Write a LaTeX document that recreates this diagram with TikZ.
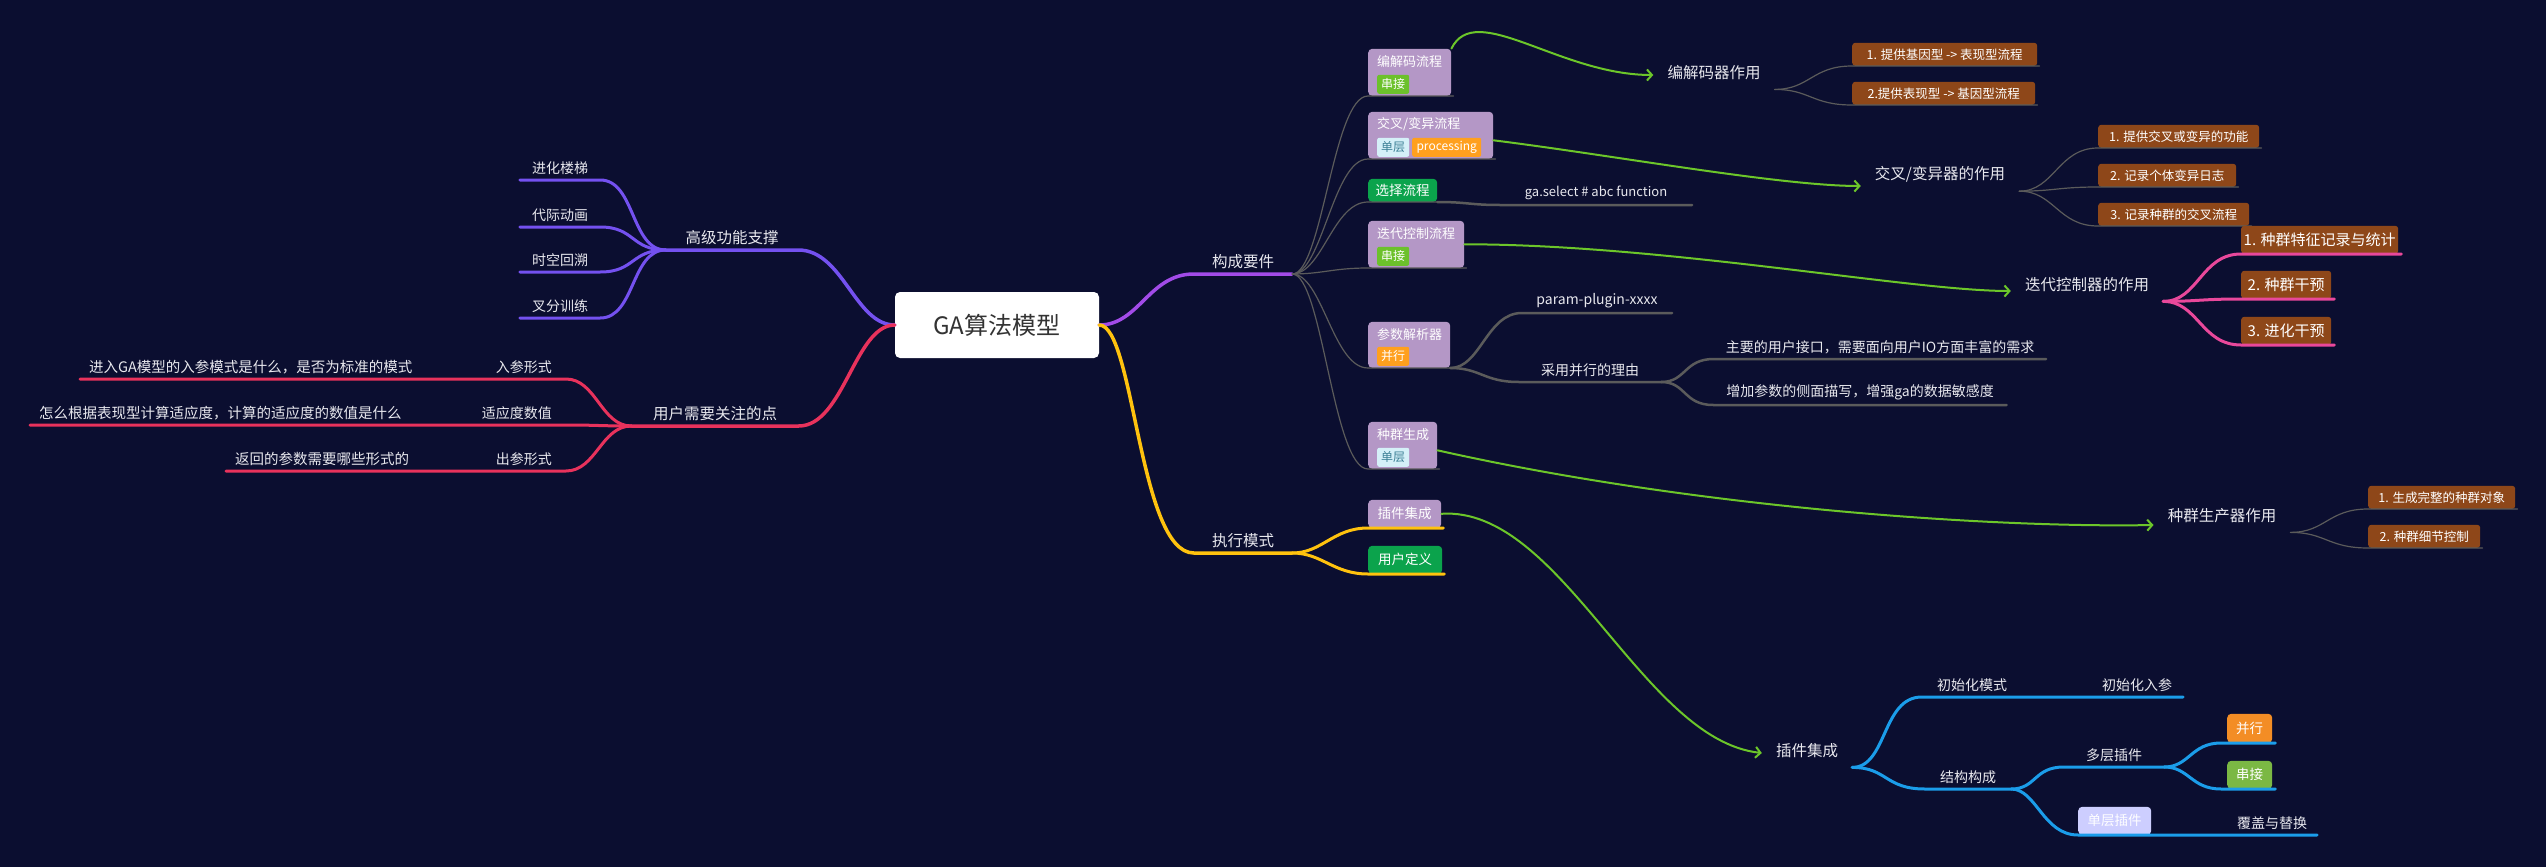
\documentclass[tikz,border=0pt]{standalone}
\usepackage{fontspec}
\setmainfont{Noto Sans CJK SC}
\usetikzlibrary{arrows.meta}

\definecolor{bgnavy}{HTML}{0B0E30}
\definecolor{fgtext}{HTML}{E8E8EE}
\definecolor{rootgray}{HTML}{333333}
\definecolor{brcomp}{HTML}{A24BE8}
\definecolor{bradv}{HTML}{7451F0}
\definecolor{bruser}{HTML}{E8325C}
\definecolor{brexe}{HTML}{FFC20E}
\definecolor{lnk}{HTML}{5B5B5B}
\definecolor{lilac}{HTML}{B497C6}
\definecolor{taggreen}{HTML}{6CC12B}
\definecolor{tagcyan}{HTML}{D5F0F8}
\definecolor{tagcyantext}{HTML}{3B7F95}
\definecolor{tagorange}{HTML}{FFA01E}
\definecolor{boxgreen}{HTML}{0BA34C}
\definecolor{rust}{HTML}{8E4719}
\definecolor{arrgreen}{HTML}{6CC62A}
\definecolor{pinkbr}{HTML}{E9489B}
\definecolor{bluebr}{HTML}{1B9DEA}
\definecolor{plorange}{HTML}{F38D25}
\definecolor{plgreen}{HTML}{7BB844}
\definecolor{lavender}{HTML}{CDCEFF}

\tikzset{
  fs/.style={font=\fontsize{#1pt}{#1pt}\selectfont},
  root/.style={fill=white, rounded corners=5pt, minimum width=204pt, minimum height=66pt, text=rootgray, fs=24},
  ul/.style={anchor=south, inner xsep=0pt, inner ysep=5pt, text=fgtext},
  big/.style={fs=15.5},
  small/.style={fs=14},
  role/.style={text=fgtext, fs=15.5, inner xsep=14pt, inner ysep=9pt},
  elbox/.style={fill=lilac, rounded corners=4pt, anchor=south west, inner sep=0pt},
  eltitle/.style={anchor=west, text=white, fs=13, inner sep=0pt},
  tag/.style={anchor=south west, rounded corners=2pt, text=white, fs=12, inner sep=0pt, minimum height=19pt, minimum width=32pt},
  flat/.style={anchor=south west, rounded corners=4pt, text=white, fs=13.5, inner sep=0pt},
  rbox/.style={anchor=south west, fill=rust, rounded corners=3pt, text=white, fs=12.5, inner sep=0pt, minimum height=23pt},
  fan/.style={lnk, line width=1.2pt},
  stem/.style={lnk, line width=2.5pt},
  call/.style={arrgreen, line width=2pt, -{Straight Barb[length=5pt,width=11pt]}},
  br/.style={line width=3.5pt}
}

\begin{document}
\begin{tikzpicture}[x=1pt, y=-1pt, line cap=round, line join=round]
\useasboundingbox (0,0) rectangle (2546,867);
\fill[bgnavy] (0,0) rectangle (2546,867);

% root
\node[root] (ga) at (997,325) {GA算法模型};

% left: advanced features
\node[ul, big, minimum width=132pt] (adv) at (732,250) {高级功能支撑};
\draw[bradv, br] (ga.west) .. controls +(-40,0) and +(45,0) .. (adv.south east) -- (adv.south west);
\foreach \nm/\txt/\yy in {ladder/进化楼梯/180, anim/代际动画/227, back/时空回溯/272, fork/叉分训练/318}{
  \node[ul, small, minimum width=80pt] (\nm) at (560,\yy) {\txt};
  \draw[bradv, line width=3pt] (adv.south west) .. controls +(-35,0) and +(35,0) .. (\nm.south east) -- (\nm.south west);
}

% left: user concerns
\node[ul, big, minimum width=167pt] (focus) at (715,426) {用户需要关注的点};
\draw[bruser, br] (ga.west) .. controls +(-40,0) and +(45,0) .. (focus.south east) -- (focus.south west);
\foreach \nm/\txt/\yy/\q/\qx in {inp/入参形式/379/{进入GA模型的入参模式是什么，是否为标准的模式}/80, fit/适应度数值/425/{怎么根据表现型计算适应度，计算的适应度的数值是什么}/30, outp/出参形式/471/{返回的参数需要哪些形式的}/226}{
  \node[ul, small, inner xsep=14pt, anchor=south east] (\nm) at (566,\yy) {\txt};
  \node[ul, fs=14.5, inner xsep=9pt, anchor=south west] (\nm q) at (\qx,\yy) {\q};
  \draw[bruser, line width=3pt] (focus.south west) .. controls +(-30,0) and +(30,0) .. (\nm.south east) -- (\nm.south west) -- (\nm q.south east) -- (\nm q.south west);
}

% right: components and execution
\node[ul, big, minimum width=98pt] (comp) at (1243,274) {构成要件};
\draw[brcomp, br] (ga.east) .. controls +(40,0) and +(-45,0) .. (comp.south west) -- (comp.south east);
\node[ul, big, minimum width=98pt] (exe) at (1243,553) {执行模式};
\draw[brexe, br] (ga.east) .. controls +(35,0) and +(-55,0) .. (exe.south west) -- (exe.south east);

% component boxes
\node[elbox, minimum width=83pt, minimum height=47pt] (codec) at (1368,96) {};
\node[eltitle] (codect) at ([xshift=9pt,yshift=-13pt]codec.north west) {编解码流程};
\node[tag, fill=taggreen] (codecs) at ([xshift=9pt,yshift=2pt]codec.south west) {串接};

\node[elbox, minimum width=125pt, minimum height=47pt] (cross) at (1368,159) {};
\node[eltitle] (crosst) at ([xshift=9pt,yshift=-13pt]cross.north west) {交叉/变异流程};
\node[tag, fill=tagcyan, text=tagcyantext] (crosss) at ([xshift=9pt,yshift=2pt]cross.south west) {单层};
\node[tag, fill=tagorange, minimum width=69pt] (crossp) at ([xshift=44pt,yshift=2pt]cross.south west) {processing};

\node[flat, fill=boxgreen, minimum width=69pt, minimum height=23pt] (sel) at (1368,202) {选择流程};

\node[elbox, minimum width=96pt, minimum height=47pt] (iter) at (1368,268) {};
\node[eltitle] (itert) at ([xshift=9pt,yshift=-13pt]iter.north west) {迭代控制流程};
\node[tag, fill=taggreen] (iters) at ([xshift=9pt,yshift=2pt]iter.south west) {串接};

\node[elbox, minimum width=82pt, minimum height=46pt] (param) at (1368,368) {};
\node[eltitle] (paramt) at ([xshift=9pt,yshift=-13pt]param.north west) {参数解析器};
\node[tag, fill=tagorange] (params) at ([xshift=9pt,yshift=2pt]param.south west) {并行};

\node[elbox, minimum width=69pt, minimum height=47pt] (popgen) at (1368,469) {};
\node[eltitle] (popgent) at ([xshift=9pt,yshift=-13pt]popgen.north west) {种群生成};
\node[tag, fill=tagcyan, text=tagcyantext] (popgens) at ([xshift=9pt,yshift=2pt]popgen.south west) {单层};

\foreach \bx in {codec,cross,sel,iter,param,popgen}
  \draw[fan] (comp.south east) .. controls +(30,0) and +(-35,0) .. (\bx.south west) -- ([xshift=2pt]\bx.south east);

% execution boxes
\node[flat, fill=lilac, minimum width=73pt, minimum height=28pt] (plug) at (1368,528) {插件集成};
\node[flat, fill=boxgreen, minimum width=74pt, minimum height=28pt] (udef) at (1368,574) {用户定义};
\foreach \bx in {plug,udef}
  \draw[brexe, line width=3pt] (exe.south east) .. controls +(30,0) and +(-35,0) .. (\bx.south west) -- ([xshift=2pt]\bx.south east);

% select and param details
\node[ul, fs=13, minimum width=192pt] (selfn) at (1596,205) {ga.select \# abc function};
\draw[stem] (sel.south east) .. controls +(30,0) and +(-30,0) .. (selfn.south west) -- (selfn.south east);
\node[ul, small, minimum width=150pt] (pplug) at (1597,313) {param-plugin-xxxx};
\node[ul, small, minimum width=142pt] (why) at (1590,382) {采用并行的理由};
\draw[stem] (param.south east) .. controls +(30,0) and +(-35,0) .. (pplug.south west) -- (pplug.south east);
\draw[stem] (param.south east) .. controls +(30,0) and +(-35,0) .. (why.south west) -- (why.south east);
\node[ul, small, minimum width=332pt] (why1) at (1880,359) {主要的用户接口，需要面向用户IO方面丰富的需求};
\node[ul, small, minimum width=293pt] (why2) at (1860,405) {增加参数的侧面描写，增强ga的数据敏感度};
\draw[stem] (why.south east) .. controls +(25,0) and +(-30,0) .. (why1.south west) -- (why1.south east);
\draw[stem] (why.south east) .. controls +(25,0) and +(-30,0) .. (why2.south west) -- (why2.south east);

% roles
\node[role] (codecrole) at (1714,73) {编解码器作用};
\node[role] (crossrole) at (1940,174) {交叉/变异器的作用};
\node[role] (iterrole) at (2087,285) {迭代控制器的作用};
\node[role] (poprole) at (2222,516) {种群生产器作用};
\node[role] (plugrole) at (1807,751) {插件集成};

\draw[call] (codec.north east) .. controls +(24,-49) and +(-94,0) .. ([yshift=-2pt]codecrole.west);
\draw[call] ([yshift=-5pt]cross.east) .. controls +(120,15) and +(-80,0) .. ([yshift=-12pt]crossrole.west);
\draw[call] (iter.east) .. controls +(200,0) and +(-100,0) .. ([yshift=-6pt]iterrole.west);
\draw[call] ([yshift=-5pt]popgen.east) .. controls +(263,59) and +(-154,3) .. ([yshift=-9pt]poprole.west);
\draw[call] (plug.east) .. controls +(120,-8) and +(-120,-13) .. ([yshift=-2pt]plugrole.west);

\foreach \nm/\yy/\ww/\txt in {cr1/66/185/{1. 提供基因型 -> 表现型流程}, cr2/105/183/{2.提供表现型 -> 基因型流程}}{
  \node[rbox, minimum width=\ww pt] (\nm) at (1852,\yy) {\txt};
  \draw[fan] (codecrole.south east) .. controls +(35,0) and +(-40,0) .. (\nm.south west) -- ([xshift=2pt]\nm.south east);
}
\foreach \nm/\yy/\ww/\txt in {xr1/148/161/{1. 提供交叉或变异的功能}, xr2/187/138/{2. 记录个体变异日志}, xr3/226/151/{3. 记录种群的交叉流程}}{
  \node[rbox, minimum width=\ww pt] (\nm) at (2098,\yy) {\txt};
  \draw[fan] (crossrole.south east) .. controls +(35,0) and +(-40,0) .. (\nm.south west) -- ([xshift=2pt]\nm.south east);
}
\foreach \nm/\yy/\ww/\txt in {ir1/254/157/{1. 种群特征记录与统计}, ir2/299/90/{2. 种群干预}, ir3/345/90/{3. 进化干预}}{
  \node[rbox, fs=15, minimum height=28pt, minimum width=\ww pt] (\nm) at (2241,\yy) {\txt};
  \draw[pinkbr, line width=3pt] (iterrole.south east) .. controls +(35,0) and +(-40,0) .. (\nm.south west) -- ([xshift=3pt]\nm.south east);
}
\foreach \nm/\yy/\ww/\txt in {pr1/509/147/{1. 生成完整的种群对象}, pr2/548/112/{2. 种群细节控制}}{
  \node[rbox, minimum width=\ww pt] (\nm) at (2368,\yy) {\txt};
  \draw[fan] (poprole.south east) .. controls +(35,0) and +(-40,0) .. (\nm.south west) -- ([xshift=2pt]\nm.south east);
}

% plugin tree
\node[ul, small, minimum width=100pt] (initm) at (1972,697) {初始化模式};
\node[ul, small, minimum width=92pt] (initp) at (2137,697) {初始化入参};
\node[ul, small, minimum width=86pt] (struct) at (1968,789) {结构构成};
\node[ul, small, minimum width=100pt] (multi) at (2114,767) {多层插件};
\node[flat, fill=plorange, minimum width=45pt, minimum height=29pt] (par) at (2227,743) {并行};
\node[flat, fill=plgreen, minimum width=45pt, minimum height=28pt] (ser) at (2227,789) {串接};
\node[flat, fill=lavender, minimum width=73pt, minimum height=28pt] (single) at (2078,835) {单层插件};
\node[ul, small, minimum width=90pt] (repl) at (2272,835) {覆盖与替换};

\draw[bluebr, line width=3pt] (plugrole.south east) .. controls +(35,0) and +(-40,0) .. (initm.south west) -- (initm.south east) -- (initp.south west) -- (initp.south east);
\draw[bluebr, line width=3pt] (plugrole.south east) .. controls +(35,0) and +(-40,0) .. (struct.south west) -- (struct.south east);
\draw[bluebr, line width=3pt] (struct.south east) .. controls +(25,0) and +(-30,0) .. (multi.south west) -- (multi.south east);
\draw[bluebr, line width=3pt] (struct.south east) .. controls +(25,0) and +(-35,0) .. (single.south west) -- (single.south east) -- (repl.south west) -- (repl.south east);
\foreach \bx in {par,ser}
  \draw[bluebr, line width=3pt] (multi.south east) .. controls +(25,0) and +(-30,0) .. ([xshift=-6pt]\bx.south west) -- ([xshift=3pt]\bx.south east);
\end{tikzpicture}
\end{document}
